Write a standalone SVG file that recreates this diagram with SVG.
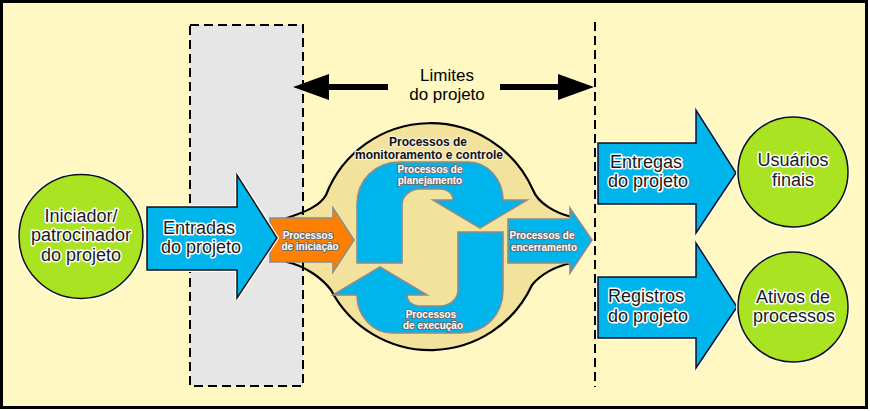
<svg xmlns="http://www.w3.org/2000/svg" xmlns:xlink="http://www.w3.org/1999/xlink" width="870" height="411" viewBox="0 0 870 411">
<style>
.bg{fill:#FFF8C2;stroke:#000;stroke-width:3}
.grey{fill:#E6E6E6}
.dash{fill:none;stroke:#000;stroke-width:2;stroke-dasharray:9 5}
.halo{fill:none;stroke:#fff;stroke-width:4;stroke-linejoin:round}
.blk{stroke:#111;stroke-width:1.5}
.blue{fill:#00B4EC}
.green{fill:#A9E322}
.orange{fill:#FF8000}
.gry{stroke:#8c8c8c;stroke-width:1.6}
.tan{fill:#F3E29B;stroke:#000;stroke-width:2.2}
.t18{font-family:"Liberation Sans",Arial,sans-serif;font-size:18px;fill:#1a1a1a;stroke:#fff;stroke-width:3;paint-order:stroke;stroke-linejoin:round;text-anchor:middle}
.t10{font-family:"Liberation Sans",Arial,sans-serif;font-size:10px;font-weight:bold;fill:#fff;stroke:#6e6e6e;stroke-width:2;paint-order:stroke;stroke-linejoin:round;text-anchor:middle}
.t12{font-family:"Liberation Sans",Arial,sans-serif;font-size:12px;font-weight:bold;fill:#111;stroke:#f6f0d8;stroke-width:2.5;paint-order:stroke;stroke-linejoin:round;text-anchor:middle}
.lim{font-family:"Liberation Sans",Arial,sans-serif;font-size:17px;fill:#000;text-anchor:middle}
.con{stroke:#000;stroke-width:6;fill:none}
</style>
<defs>
<path id="cyc" d="M357,263 L357,205 C357,180 375,162 400,162 L468,162 C488,162 503,180 503,200 L527,200 L480,228 L433,200 L453,200 C453,194 448,189 440,189 L420,189 C410,189 402,196 402,205 L402,263 Z"/>
<path id="pEnt" d="M147,207 L237,207 L237,175 L277,238 L237,298 L237,270 L147,270 Z"/>
<path id="pEtg" d="M598,143 L696,143 L696,110 L736,173 L696,233 L696,204 L598,204 Z"/>
<path id="pReg" d="M598,277 L696,277 L696,243 L737,307 L696,368 L696,338 L598,338 Z"/>
<polygon id="headL" points="0,0 36,-13 36,13"/>
</defs>

<rect class="bg" x="1.5" y="1.5" width="865" height="406"/>
<rect class="grey" x="190" y="25" width="113" height="361"/>
<line class="dash" x1="595" y1="22" x2="595" y2="387"/>

<g id="monitoramento">
<path class="tan" d="M287,218 C305,212 320,206 326,195 A112 112 0 0 1 533,190 C538,203 555,213 572,217 L572,263 C555,266 540,275 532,285 A112 112 0 0 1 331,290 C322,278 305,266 287,262 Z"/>
<text class="t12" x="428" y="145.5">Processos de</text>
<text class="t12" x="429" y="158.5">monitoramento e controle</text>
</g>

<rect id="limites-box" class="dash" x="190" y="25" width="113" height="361"/>

<g id="iniciador">
<circle class="halo" cx="81" cy="236.5" r="62"/>
<circle class="green blk" cx="81" cy="236.5" r="62"/>
<text class="t18" x="81" y="221.5">Iniciador/</text>
<text class="t18" x="81" y="241">patrocinador</text>
<text class="t18" x="81" y="260.5">do projeto</text>
</g>

<g id="iniciacao">
<path class="orange gry" d="M270,218 L333,218 L333,208 L354,240 L333,272 L333,262 L270,262 Z"/>
<text class="t10" x="308" y="239">Processos</text>
<text class="t10" x="310" y="250">de iniciação</text>
</g>

<g id="entradas">
<use xlink:href="#pEnt" class="halo"/>
<use xlink:href="#pEnt" class="blue blk"/>
<text class="t18" x="199" y="233.5">Entradas</text>
<text class="t18" x="201" y="253">do projeto</text>
</g>

<g id="planejamento">
<use xlink:href="#cyc" class="blue gry"/>
<text class="t10" x="430" y="172.5">Processos de</text>
<text class="t10" x="430" y="183.5">planejamento</text>
</g>

<g id="execucao">
<use xlink:href="#cyc" class="blue gry" transform="rotate(180 430 247.5)"/>
<text class="t10" x="431" y="317.5">Processos</text>
<text class="t10" x="433" y="328.5">de execução</text>
</g>

<g id="encerramento">
<path class="blue gry" d="M508,219 L570,219 L570,208 L592,240 L570,273 L570,263 L508,263 Z"/>
<text class="t10" x="542" y="239">Processos de</text>
<text class="t10" x="544" y="250.5">encerramento</text>
</g>

<g id="entregas">
<use xlink:href="#pEtg" class="halo"/>
<use xlink:href="#pEtg" class="blue blk"/>
<text class="t18" x="646" y="167.5">Entregas</text>
<text class="t18" x="648" y="187">do projeto</text>
</g>

<g id="registros">
<use xlink:href="#pReg" class="halo"/>
<use xlink:href="#pReg" class="blue blk"/>
<text class="t18" x="646" y="301.5">Registros</text>
<text class="t18" x="648" y="321.5">do projeto</text>
</g>

<g id="usuarios">
<circle class="halo" cx="793" cy="172" r="55"/>
<circle class="green blk" cx="793" cy="172" r="55"/>
<text class="t18" x="793" y="166">Usuários</text>
<text class="t18" x="793" y="185.5">finais</text>
</g>

<g id="ativos">
<circle class="halo" cx="793" cy="307" r="55"/>
<circle class="green blk" cx="793" cy="307" r="55"/>
<text class="t18" x="793" y="303">Ativos de</text>
<text class="t18" x="794" y="322">processos</text>
</g>

<g id="connectors">
<line class="con" x1="320" y1="87" x2="388" y2="87"/>
<use xlink:href="#headL" transform="translate(293 87)"/>
<line class="con" x1="500" y1="87" x2="568" y2="87"/>
<use xlink:href="#headL" transform="translate(594 87) rotate(180)"/>
<text class="lim" x="447" y="80.5">Limites</text>
<text class="lim" x="447" y="99.5">do projeto</text>
</g>
</svg>
